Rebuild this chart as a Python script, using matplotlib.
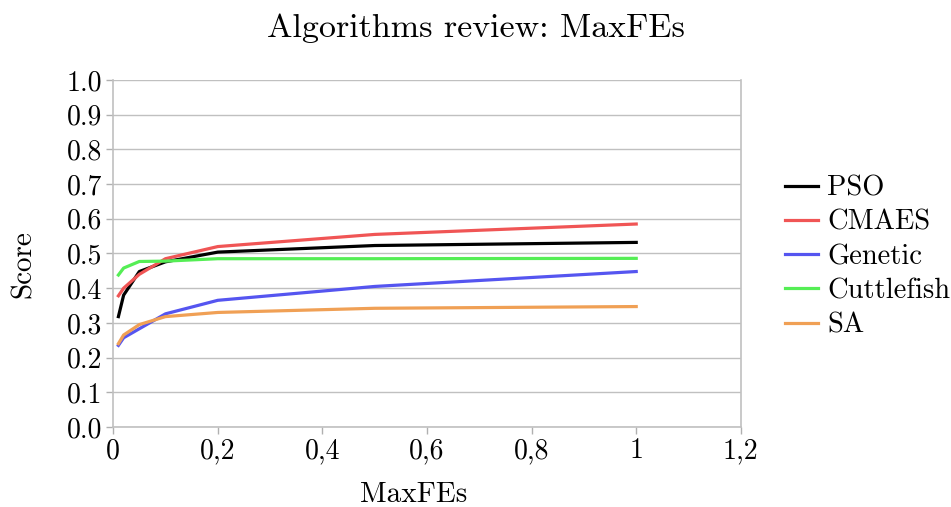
import numpy as np
import matplotlib.pyplot as plt

plt.rcParams['font.family'] = ['cmr10', 'DejaVu Serif']
plt.rcParams['mathtext.fontset'] = 'cm'
plt.rcParams['axes.formatter.use_mathtext'] = True

maxfes = [0.01, 0.02, 0.05, 0.1, 0.2, 0.5, 1.0]
pso = [0.318, 0.38, 0.448, 0.476, 0.504, 0.523, 0.532]
cmaes = [0.378, 0.40, 0.44, 0.485, 0.52, 0.555, 0.585]
genetic = [0.235, 0.257, 0.283, 0.326, 0.365, 0.405, 0.448]
cuttlefish = [0.438, 0.458, 0.477, 0.478, 0.485, 0.485, 0.486]
sa = [0.24, 0.265, 0.295, 0.318, 0.33, 0.342, 0.347]

names = ['PSO', 'CMAES', 'Genetic', 'Cuttlefish', 'SA']
colors = ['#000000', '#f05555', '#5555f0', '#55ee55', '#f0a055']
series = [pso, cmaes, genetic, cuttlefish, sa]

xticks = [0, 0.2, 0.4, 0.6, 0.8, 1.0, 1.2]
xlabels = ['0', '0,2', '0,4', '0,6', '0,8', '1', '1,2']
yticks = np.arange(0, 1.01, 0.1)

fig = plt.figure(figsize=(9.51, 5.07), dpi=100)
ax = fig.add_axes([0.119, 0.158, 0.66, 0.684])

for s, name, c in zip(series, names, colors):
    ax.plot(maxfes, s, color=c, lw=2.3, label=name)

ax.set_xlim(0, 1.2)
ax.set_ylim(0, 1.0)
ax.set_xticks(xticks)
ax.set_xticklabels(xlabels)
ax.set_yticks(yticks)
ax.set_yticklabels([f'{v:.1f}' for v in yticks])
ax.tick_params(labelsize=20, color='#b0b0b0', length=5, width=1, direction='out', pad=3)
ax.grid(axis='y', color='#c0c0c0', lw=1)
ax.set_axisbelow(True)
for sp in ['left', 'bottom', 'right']:
    ax.spines[sp].set_color('#c0c0c0')
    ax.spines[sp].set_linewidth(1.2)
ax.spines['top'].set_visible(False)

fig.suptitle('Algorithms review: MaxFEs', fontsize=24.5, y=0.945, va='center')
ax.set_xlabel('MaxFEs', fontsize=21)
ax.set_ylabel('Score', fontsize=21)
ax.xaxis.set_label_coords(0.479, -0.158)
ax.yaxis.set_label_coords(-0.122, 0.47)

ax.legend(loc='center left', bbox_to_anchor=(1.07, 0.49), frameon=False,
          fontsize=20.5, handlelength=1.15, handletextpad=0.35,
          labelspacing=0.28, borderpad=0, borderaxespad=0)

fig.savefig('out.png', dpi=100)
